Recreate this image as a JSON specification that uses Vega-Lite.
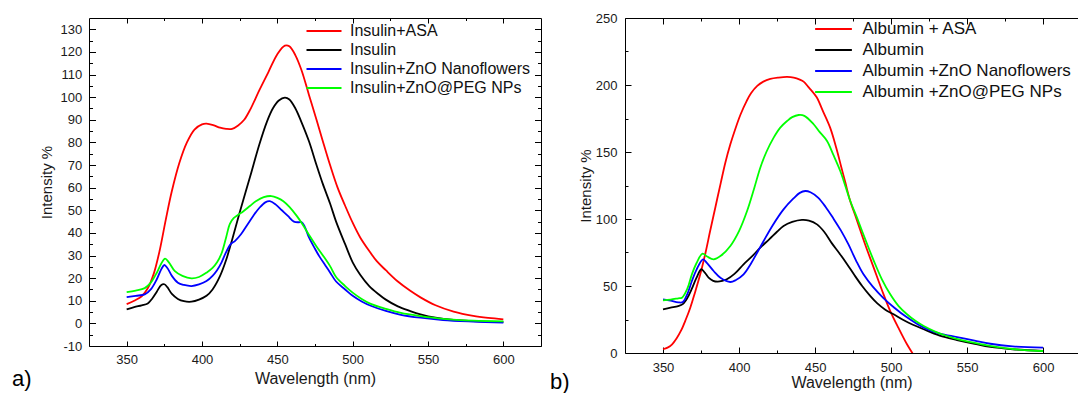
{
  "$schema": "https://vega.github.io/schema/vega-lite/v6.json",
  "padding": {"left": 12, "top": 12, "right": 0, "bottom": 0},
  "spacing": 8,
  "config": {
    "view": {"stroke": null},
    "font": "Liberation Sans",
    "axis": {"grid": false, "domainColor": "#000", "domainWidth": 1, "tickColor": "#000", "tickWidth": 1, "labelFontSize": 13, "labelColor": "#1a1a1a", "labelFont": "Liberation Sans", "titleFont": "Liberation Sans", "titleFontWeight": "normal", "titleColor": "#1a1a1a"},
    "title": {"font": "Liberation Sans", "fontWeight": "normal", "color": "#000"}
  },
  "datasets": {
    "ins": [
      {"s":"Insulin+ASA","wl":350,"v":8.5},{"s":"Insulin+ASA","wl":355,"v":10},{"s":"Insulin+ASA","wl":360,"v":12},{"s":"Insulin+ASA","wl":364,"v":15.5},{"s":"Insulin+ASA","wl":368,"v":22},{"s":"Insulin+ASA","wl":372,"v":32.5},{"s":"Insulin+ASA","wl":376,"v":46},{"s":"Insulin+ASA","wl":380,"v":58.5},{"s":"Insulin+ASA","wl":385,"v":71},{"s":"Insulin+ASA","wl":390,"v":80},{"s":"Insulin+ASA","wl":395,"v":85.7},{"s":"Insulin+ASA","wl":400,"v":88},{"s":"Insulin+ASA","wl":403,"v":88.3},{"s":"Insulin+ASA","wl":408,"v":87.5},{"s":"Insulin+ASA","wl":412,"v":86.5},{"s":"Insulin+ASA","wl":416,"v":86},{"s":"Insulin+ASA","wl":420,"v":86},{"s":"Insulin+ASA","wl":424,"v":87.5},{"s":"Insulin+ASA","wl":428,"v":90},{"s":"Insulin+ASA","wl":432,"v":94.5},{"s":"Insulin+ASA","wl":438,"v":103},{"s":"Insulin+ASA","wl":444,"v":111},{"s":"Insulin+ASA","wl":450,"v":119},{"s":"Insulin+ASA","wl":455,"v":122.8},{"s":"Insulin+ASA","wl":458,"v":122.5},{"s":"Insulin+ASA","wl":462,"v":118.5},{"s":"Insulin+ASA","wl":466,"v":112},{"s":"Insulin+ASA","wl":471,"v":101},{"s":"Insulin+ASA","wl":476,"v":90},{"s":"Insulin+ASA","wl":480,"v":81},{"s":"Insulin+ASA","wl":485,"v":70},{"s":"Insulin+ASA","wl":490,"v":60},{"s":"Insulin+ASA","wl":495,"v":52},{"s":"Insulin+ASA","wl":500,"v":44.5},{"s":"Insulin+ASA","wl":505,"v":38},{"s":"Insulin+ASA","wl":511,"v":32},{"s":"Insulin+ASA","wl":516,"v":27.5},{"s":"Insulin+ASA","wl":522,"v":23.5},{"s":"Insulin+ASA","wl":530,"v":18.5},{"s":"Insulin+ASA","wl":538,"v":14.5},{"s":"Insulin+ASA","wl":545,"v":11.5},{"s":"Insulin+ASA","wl":555,"v":8},{"s":"Insulin+ASA","wl":567,"v":5.2},{"s":"Insulin+ASA","wl":580,"v":3.3},{"s":"Insulin+ASA","wl":590,"v":2.4},{"s":"Insulin+ASA","wl":600,"v":1.8},
      {"s":"Insulin","wl":350,"v":6.2},{"s":"Insulin","wl":355,"v":7.2},{"s":"Insulin","wl":360,"v":8},{"s":"Insulin","wl":364,"v":8.8},{"s":"Insulin","wl":367,"v":11},{"s":"Insulin","wl":370,"v":14},{"s":"Insulin","wl":373,"v":17},{"s":"Insulin","wl":375,"v":17.3},{"s":"Insulin","wl":377,"v":16},{"s":"Insulin","wl":380,"v":13},{"s":"Insulin","wl":384,"v":10.8},{"s":"Insulin","wl":388,"v":9.8},{"s":"Insulin","wl":393,"v":9.6},{"s":"Insulin","wl":398,"v":10.5},{"s":"Insulin","wl":403,"v":12.2},{"s":"Insulin","wl":407,"v":15},{"s":"Insulin","wl":412,"v":21},{"s":"Insulin","wl":416,"v":28},{"s":"Insulin","wl":420,"v":37},{"s":"Insulin","wl":425,"v":49},{"s":"Insulin","wl":432,"v":65},{"s":"Insulin","wl":438,"v":79},{"s":"Insulin","wl":443,"v":89},{"s":"Insulin","wl":447,"v":95},{"s":"Insulin","wl":451,"v":98.5},{"s":"Insulin","wl":455,"v":99.8},{"s":"Insulin","wl":458,"v":99},{"s":"Insulin","wl":462,"v":95},{"s":"Insulin","wl":466,"v":89},{"s":"Insulin","wl":471,"v":80.5},{"s":"Insulin","wl":476,"v":70},{"s":"Insulin","wl":480,"v":62},{"s":"Insulin","wl":485,"v":53},{"s":"Insulin","wl":489,"v":45},{"s":"Insulin","wl":495,"v":35},{"s":"Insulin","wl":500,"v":27},{"s":"Insulin","wl":505,"v":21.5},{"s":"Insulin","wl":511,"v":16.5},{"s":"Insulin","wl":517,"v":13},{"s":"Insulin","wl":522,"v":10.5},{"s":"Insulin","wl":530,"v":7.5},{"s":"Insulin","wl":538,"v":5.5},{"s":"Insulin","wl":545,"v":4},{"s":"Insulin","wl":555,"v":2.5},{"s":"Insulin","wl":567,"v":1.5},{"s":"Insulin","wl":580,"v":1},{"s":"Insulin","wl":600,"v":0.6},
      {"s":"Insulin+ZnO Nanoflowers","wl":350,"v":11.6},{"s":"Insulin+ZnO Nanoflowers","wl":356,"v":12.2},{"s":"Insulin+ZnO Nanoflowers","wl":362,"v":12.8},{"s":"Insulin+ZnO Nanoflowers","wl":366,"v":15},{"s":"Insulin+ZnO Nanoflowers","wl":370,"v":19.5},{"s":"Insulin+ZnO Nanoflowers","wl":373,"v":24},{"s":"Insulin+ZnO Nanoflowers","wl":375,"v":25.8},{"s":"Insulin+ZnO Nanoflowers","wl":377,"v":24.5},{"s":"Insulin+ZnO Nanoflowers","wl":380,"v":21},{"s":"Insulin+ZnO Nanoflowers","wl":384,"v":18},{"s":"Insulin+ZnO Nanoflowers","wl":388,"v":17},{"s":"Insulin+ZnO Nanoflowers","wl":393,"v":16.5},{"s":"Insulin+ZnO Nanoflowers","wl":398,"v":17.2},{"s":"Insulin+ZnO Nanoflowers","wl":403,"v":18.7},{"s":"Insulin+ZnO Nanoflowers","wl":407,"v":21},{"s":"Insulin+ZnO Nanoflowers","wl":410,"v":23.5},{"s":"Insulin+ZnO Nanoflowers","wl":413,"v":27},{"s":"Insulin+ZnO Nanoflowers","wl":416,"v":31.5},{"s":"Insulin+ZnO Nanoflowers","wl":419,"v":35},{"s":"Insulin+ZnO Nanoflowers","wl":422,"v":36.5},{"s":"Insulin+ZnO Nanoflowers","wl":426,"v":39.5},{"s":"Insulin+ZnO Nanoflowers","wl":430,"v":43.5},{"s":"Insulin+ZnO Nanoflowers","wl":434,"v":47.5},{"s":"Insulin+ZnO Nanoflowers","wl":438,"v":51},{"s":"Insulin+ZnO Nanoflowers","wl":442,"v":53.5},{"s":"Insulin+ZnO Nanoflowers","wl":445,"v":54},{"s":"Insulin+ZnO Nanoflowers","wl":449,"v":52.5},{"s":"Insulin+ZnO Nanoflowers","wl":453,"v":50},{"s":"Insulin+ZnO Nanoflowers","wl":457,"v":47.5},{"s":"Insulin+ZnO Nanoflowers","wl":461,"v":45},{"s":"Insulin+ZnO Nanoflowers","wl":464,"v":44.7},{"s":"Insulin+ZnO Nanoflowers","wl":466,"v":44.8},{"s":"Insulin+ZnO Nanoflowers","wl":468,"v":43},{"s":"Insulin+ZnO Nanoflowers","wl":471,"v":38},{"s":"Insulin+ZnO Nanoflowers","wl":475,"v":33},{"s":"Insulin+ZnO Nanoflowers","wl":478,"v":29.5},{"s":"Insulin+ZnO Nanoflowers","wl":482,"v":25.5},{"s":"Insulin+ZnO Nanoflowers","wl":485,"v":22.5},{"s":"Insulin+ZnO Nanoflowers","wl":489,"v":18.5},{"s":"Insulin+ZnO Nanoflowers","wl":495,"v":15},{"s":"Insulin+ZnO Nanoflowers","wl":500,"v":12.2},{"s":"Insulin+ZnO Nanoflowers","wl":506,"v":9.7},{"s":"Insulin+ZnO Nanoflowers","wl":512,"v":7.8},{"s":"Insulin+ZnO Nanoflowers","wl":522,"v":5.5},{"s":"Insulin+ZnO Nanoflowers","wl":532,"v":3.8},{"s":"Insulin+ZnO Nanoflowers","wl":545,"v":2.5},{"s":"Insulin+ZnO Nanoflowers","wl":560,"v":1.5},{"s":"Insulin+ZnO Nanoflowers","wl":580,"v":0.8},{"s":"Insulin+ZnO Nanoflowers","wl":600,"v":0.3},
      {"s":"Insulin+ZnO@PEG  NPs","wl":350,"v":13.8},{"s":"Insulin+ZnO@PEG  NPs","wl":356,"v":14.5},{"s":"Insulin+ZnO@PEG  NPs","wl":362,"v":15.6},{"s":"Insulin+ZnO@PEG  NPs","wl":366,"v":18},{"s":"Insulin+ZnO@PEG  NPs","wl":370,"v":22.4},{"s":"Insulin+ZnO@PEG  NPs","wl":373,"v":26.5},{"s":"Insulin+ZnO@PEG  NPs","wl":375.5,"v":28.6},{"s":"Insulin+ZnO@PEG  NPs","wl":378,"v":27},{"s":"Insulin+ZnO@PEG  NPs","wl":382,"v":23.1},{"s":"Insulin+ZnO@PEG  NPs","wl":387,"v":21},{"s":"Insulin+ZnO@PEG  NPs","wl":393,"v":19.9},{"s":"Insulin+ZnO@PEG  NPs","wl":398,"v":20.5},{"s":"Insulin+ZnO@PEG  NPs","wl":403,"v":22.4},{"s":"Insulin+ZnO@PEG  NPs","wl":407,"v":24.5},{"s":"Insulin+ZnO@PEG  NPs","wl":410,"v":27},{"s":"Insulin+ZnO@PEG  NPs","wl":413,"v":31},{"s":"Insulin+ZnO@PEG  NPs","wl":416,"v":38},{"s":"Insulin+ZnO@PEG  NPs","wl":418.5,"v":44},{"s":"Insulin+ZnO@PEG  NPs","wl":421,"v":46.5},{"s":"Insulin+ZnO@PEG  NPs","wl":424,"v":48},{"s":"Insulin+ZnO@PEG  NPs","wl":427.5,"v":49.6},{"s":"Insulin+ZnO@PEG  NPs","wl":432,"v":52},{"s":"Insulin+ZnO@PEG  NPs","wl":436,"v":54.1},{"s":"Insulin+ZnO@PEG  NPs","wl":441,"v":55.8},{"s":"Insulin+ZnO@PEG  NPs","wl":446,"v":56.3},{"s":"Insulin+ZnO@PEG  NPs","wl":450,"v":55.5},{"s":"Insulin+ZnO@PEG  NPs","wl":454,"v":54},{"s":"Insulin+ZnO@PEG  NPs","wl":458,"v":51.5},{"s":"Insulin+ZnO@PEG  NPs","wl":463,"v":47.4},{"s":"Insulin+ZnO@PEG  NPs","wl":467,"v":43.5},{"s":"Insulin+ZnO@PEG  NPs","wl":471.5,"v":38.6},{"s":"Insulin+ZnO@PEG  NPs","wl":476,"v":34},{"s":"Insulin+ZnO@PEG  NPs","wl":480.5,"v":29.8},{"s":"Insulin+ZnO@PEG  NPs","wl":485,"v":25.3},{"s":"Insulin+ZnO@PEG  NPs","wl":489,"v":20.5},{"s":"Insulin+ZnO@PEG  NPs","wl":495,"v":16.5},{"s":"Insulin+ZnO@PEG  NPs","wl":500,"v":13.6},{"s":"Insulin+ZnO@PEG  NPs","wl":506,"v":10.8},{"s":"Insulin+ZnO@PEG  NPs","wl":512,"v":8.6},{"s":"Insulin+ZnO@PEG  NPs","wl":522,"v":6.4},{"s":"Insulin+ZnO@PEG  NPs","wl":532,"v":4.6},{"s":"Insulin+ZnO@PEG  NPs","wl":545,"v":3.2},{"s":"Insulin+ZnO@PEG  NPs","wl":560,"v":2},{"s":"Insulin+ZnO@PEG  NPs","wl":580,"v":1.2},{"s":"Insulin+ZnO@PEG  NPs","wl":600,"v":0.9}
    ],
    "alb": [
      {"s":"Albumin + ASA","wl":350,"v":2.8},{"s":"Albumin + ASA","wl":353,"v":4},{"s":"Albumin + ASA","wl":356,"v":6.5},{"s":"Albumin + ASA","wl":359,"v":11},{"s":"Albumin + ASA","wl":362,"v":17},{"s":"Albumin + ASA","wl":365,"v":25},{"s":"Albumin + ASA","wl":368,"v":34},{"s":"Albumin + ASA","wl":371,"v":45},{"s":"Albumin + ASA","wl":374.5,"v":58.7},{"s":"Albumin + ASA","wl":378,"v":75},{"s":"Albumin + ASA","wl":381,"v":91},{"s":"Albumin + ASA","wl":384.5,"v":109},{"s":"Albumin + ASA","wl":388,"v":127},{"s":"Albumin + ASA","wl":391,"v":142},{"s":"Albumin + ASA","wl":394.3,"v":155.7},{"s":"Albumin + ASA","wl":397.5,"v":167},{"s":"Albumin + ASA","wl":401,"v":178},{"s":"Albumin + ASA","wl":405,"v":188},{"s":"Albumin + ASA","wl":408,"v":194},{"s":"Albumin + ASA","wl":412,"v":199.3},{"s":"Albumin + ASA","wl":416,"v":202.5},{"s":"Albumin + ASA","wl":420.6,"v":204.5},{"s":"Albumin + ASA","wl":426,"v":205.5},{"s":"Albumin + ASA","wl":431.6,"v":206},{"s":"Albumin + ASA","wl":436,"v":205.5},{"s":"Albumin + ASA","wl":440,"v":204},{"s":"Albumin + ASA","wl":442.5,"v":202.5},{"s":"Albumin + ASA","wl":446,"v":198},{"s":"Albumin + ASA","wl":451,"v":191},{"s":"Albumin + ASA","wl":455,"v":181},{"s":"Albumin + ASA","wl":460,"v":168},{"s":"Albumin + ASA","wl":464,"v":153},{"s":"Albumin + ASA","wl":467,"v":140},{"s":"Albumin + ASA","wl":470,"v":127},{"s":"Albumin + ASA","wl":473,"v":114},{"s":"Albumin + ASA","wl":477.6,"v":99},{"s":"Albumin + ASA","wl":483,"v":81},{"s":"Albumin + ASA","wl":488.6,"v":63.7},{"s":"Albumin + ASA","wl":494,"v":47},{"s":"Albumin + ASA","wl":499.5,"v":31.3},{"s":"Albumin + ASA","wl":505,"v":18.5},{"s":"Albumin + ASA","wl":510.5,"v":6.5},{"s":"Albumin + ASA","wl":514,"v":0},{"s":"Albumin + ASA","wl":517,"v":-6},
      {"s":"Albumin","wl":350,"v":32.6},{"s":"Albumin","wl":355,"v":33.8},{"s":"Albumin","wl":360,"v":35},{"s":"Albumin","wl":363,"v":36.5},{"s":"Albumin","wl":366,"v":41},{"s":"Albumin","wl":369,"v":48},{"s":"Albumin","wl":372,"v":56},{"s":"Albumin","wl":375.2,"v":62.5},{"s":"Albumin","wl":377.5,"v":60},{"s":"Albumin","wl":380,"v":56.2},{"s":"Albumin","wl":383,"v":53.8},{"s":"Albumin","wl":386,"v":53.2},{"s":"Albumin","wl":389,"v":53.8},{"s":"Albumin","wl":392,"v":55},{"s":"Albumin","wl":397,"v":59},{"s":"Albumin","wl":403,"v":66.2},{"s":"Albumin","wl":408,"v":71.5},{"s":"Albumin","wl":414,"v":78.6},{"s":"Albumin","wl":420,"v":85},{"s":"Albumin","wl":425,"v":90.5},{"s":"Albumin","wl":429.3,"v":94.8},{"s":"Albumin","wl":435,"v":97.8},{"s":"Albumin","wl":441.4,"v":99.3},{"s":"Albumin","wl":446,"v":98.8},{"s":"Albumin","wl":451.3,"v":96},{"s":"Albumin","wl":456,"v":90.5},{"s":"Albumin","wl":461,"v":82},{"s":"Albumin","wl":466,"v":74.5},{"s":"Albumin","wl":471,"v":66.5},{"s":"Albumin","wl":476,"v":58},{"s":"Albumin","wl":481,"v":50},{"s":"Albumin","wl":486,"v":43},{"s":"Albumin","wl":491,"v":37},{"s":"Albumin","wl":496,"v":32.5},{"s":"Albumin","wl":502,"v":28.7},{"s":"Albumin","wl":510,"v":23.5},{"s":"Albumin","wl":521.5,"v":17.7},{"s":"Albumin","wl":532,"v":13},{"s":"Albumin","wl":543.4,"v":9.7},{"s":"Albumin","wl":555,"v":6.8},{"s":"Albumin","wl":565.3,"v":4.5},{"s":"Albumin","wl":580,"v":2.8},{"s":"Albumin","wl":600,"v":1.5},
      {"s":"Albumin +ZnO Nanoflowers","wl":350,"v":40},{"s":"Albumin +ZnO Nanoflowers","wl":355,"v":39},{"s":"Albumin +ZnO Nanoflowers","wl":360,"v":37.8},{"s":"Albumin +ZnO Nanoflowers","wl":363,"v":38},{"s":"Albumin +ZnO Nanoflowers","wl":366,"v":44},{"s":"Albumin +ZnO Nanoflowers","wl":369,"v":53.7},{"s":"Albumin +ZnO Nanoflowers","wl":372,"v":62},{"s":"Albumin +ZnO Nanoflowers","wl":376.3,"v":69.9},{"s":"Albumin +ZnO Nanoflowers","wl":379,"v":67},{"s":"Albumin +ZnO Nanoflowers","wl":383.3,"v":61.2},{"s":"Albumin +ZnO Nanoflowers","wl":388,"v":56},{"s":"Albumin +ZnO Nanoflowers","wl":394.3,"v":53},{"s":"Albumin +ZnO Nanoflowers","wl":398,"v":54.5},{"s":"Albumin +ZnO Nanoflowers","wl":403,"v":58.7},{"s":"Albumin +ZnO Nanoflowers","wl":408,"v":67},{"s":"Albumin +ZnO Nanoflowers","wl":412,"v":75},{"s":"Albumin +ZnO Nanoflowers","wl":416.2,"v":83.6},{"s":"Albumin +ZnO Nanoflowers","wl":422,"v":95},{"s":"Albumin +ZnO Nanoflowers","wl":429.3,"v":107.2},{"s":"Albumin +ZnO Nanoflowers","wl":436,"v":115.5},{"s":"Albumin +ZnO Nanoflowers","wl":440,"v":119.5},{"s":"Albumin +ZnO Nanoflowers","wl":443.6,"v":120.9},{"s":"Albumin +ZnO Nanoflowers","wl":447,"v":120},{"s":"Albumin +ZnO Nanoflowers","wl":452,"v":116},{"s":"Albumin +ZnO Nanoflowers","wl":457,"v":109},{"s":"Albumin +ZnO Nanoflowers","wl":462,"v":100.5},{"s":"Albumin +ZnO Nanoflowers","wl":467,"v":91.5},{"s":"Albumin +ZnO Nanoflowers","wl":472,"v":81},{"s":"Albumin +ZnO Nanoflowers","wl":477,"v":69},{"s":"Albumin +ZnO Nanoflowers","wl":482,"v":58.5},{"s":"Albumin +ZnO Nanoflowers","wl":488,"v":49.5},{"s":"Albumin +ZnO Nanoflowers","wl":495,"v":41},{"s":"Albumin +ZnO Nanoflowers","wl":502,"v":34},{"s":"Albumin +ZnO Nanoflowers","wl":510,"v":27},{"s":"Albumin +ZnO Nanoflowers","wl":521.5,"v":18.9},{"s":"Albumin +ZnO Nanoflowers","wl":532,"v":14.5},{"s":"Albumin +ZnO Nanoflowers","wl":543.4,"v":11.9},{"s":"Albumin +ZnO Nanoflowers","wl":555,"v":9.2},{"s":"Albumin +ZnO Nanoflowers","wl":565.3,"v":6.9},{"s":"Albumin +ZnO Nanoflowers","wl":580,"v":5},{"s":"Albumin +ZnO Nanoflowers","wl":600,"v":4},
      {"s":"Albumin +ZnO@PEG NPs","wl":350,"v":39.3},{"s":"Albumin +ZnO@PEG NPs","wl":355,"v":39.8},{"s":"Albumin +ZnO@PEG NPs","wl":360,"v":40.8},{"s":"Albumin +ZnO@PEG NPs","wl":362.5,"v":41.3},{"s":"Albumin +ZnO@PEG NPs","wl":366,"v":48},{"s":"Albumin +ZnO@PEG NPs","wl":369,"v":58.7},{"s":"Albumin +ZnO@PEG NPs","wl":372,"v":67},{"s":"Albumin +ZnO@PEG NPs","wl":376,"v":74.1},{"s":"Albumin +ZnO@PEG NPs","wl":379,"v":72},{"s":"Albumin +ZnO@PEG NPs","wl":383.3,"v":69.9},{"s":"Albumin +ZnO@PEG NPs","wl":388,"v":72.5},{"s":"Albumin +ZnO@PEG NPs","wl":394.3,"v":79.9},{"s":"Albumin +ZnO@PEG NPs","wl":400,"v":91},{"s":"Albumin +ZnO@PEG NPs","wl":405.3,"v":106},{"s":"Albumin +ZnO@PEG NPs","wl":410,"v":123},{"s":"Albumin +ZnO@PEG NPs","wl":414,"v":138.3},{"s":"Albumin +ZnO@PEG NPs","wl":418,"v":150},{"s":"Albumin +ZnO@PEG NPs","wl":422.8,"v":160.7},{"s":"Albumin +ZnO@PEG NPs","wl":427,"v":168},{"s":"Albumin +ZnO@PEG NPs","wl":431.6,"v":173.1},{"s":"Albumin +ZnO@PEG NPs","wl":435,"v":176},{"s":"Albumin +ZnO@PEG NPs","wl":439.2,"v":177.6},{"s":"Albumin +ZnO@PEG NPs","wl":443,"v":177},{"s":"Albumin +ZnO@PEG NPs","wl":449.1,"v":170.7},{"s":"Albumin +ZnO@PEG NPs","wl":453,"v":165},{"s":"Albumin +ZnO@PEG NPs","wl":457.9,"v":158.2},{"s":"Albumin +ZnO@PEG NPs","wl":462,"v":148},{"s":"Albumin +ZnO@PEG NPs","wl":466.6,"v":135.8},{"s":"Albumin +ZnO@PEG NPs","wl":470,"v":124.5},{"s":"Albumin +ZnO@PEG NPs","wl":473.2,"v":113.4},{"s":"Albumin +ZnO@PEG NPs","wl":477.6,"v":101},{"s":"Albumin +ZnO@PEG NPs","wl":483,"v":85},{"s":"Albumin +ZnO@PEG NPs","wl":488.6,"v":69},{"s":"Albumin +ZnO@PEG NPs","wl":494,"v":55},{"s":"Albumin +ZnO@PEG NPs","wl":499.5,"v":43.8},{"s":"Albumin +ZnO@PEG NPs","wl":505,"v":35},{"s":"Albumin +ZnO@PEG NPs","wl":510.5,"v":28.9},{"s":"Albumin +ZnO@PEG NPs","wl":516,"v":24},{"s":"Albumin +ZnO@PEG NPs","wl":521.5,"v":20.1},{"s":"Albumin +ZnO@PEG NPs","wl":529,"v":16},{"s":"Albumin +ZnO@PEG NPs","wl":536.8,"v":12.7},{"s":"Albumin +ZnO@PEG NPs","wl":545,"v":10},{"s":"Albumin +ZnO@PEG NPs","wl":554.3,"v":7.7},{"s":"Albumin +ZnO@PEG NPs","wl":565,"v":5.3},{"s":"Albumin +ZnO@PEG NPs","wl":576.3,"v":3.5},{"s":"Albumin +ZnO@PEG NPs","wl":588,"v":2.2},{"s":"Albumin +ZnO@PEG NPs","wl":600,"v":1.5}
    ]
  },
  "hconcat": [
    {
      "width": 452,
      "height": 328,
      "data": {"name": "ins"},
      "title": {"text": "a)", "orient": "bottom", "anchor": "start", "frame": "group", "dx": -77, "dy": -21, "fontSize": 22},
      "layer": [
        {
          "mark": {"type": "line", "strokeWidth": 1.8, "interpolate": "catmull-rom", "clip": true},
          "encoding": {
            "x": {"field": "wl", "type": "quantitative", "scale": {"domain": [325, 625], "nice": false, "zero": false},
                  "axis": {"orient": "bottom", "values": [350, 400, 450, 500, 550, 600], "tickSize": -5, "labelPadding": 12, "title": "Wavelength (nm)", "titleFontSize": 16, "titlePadding": 4}},
            "y": {"field": "v", "type": "quantitative", "scale": {"domain": [-10, 135], "nice": false, "zero": false},
                  "axis": {"orient": "left", "values": [-10, 0, 10, 20, 30, 40, 50, 60, 70, 80, 90, 100, 110, 120, 130], "tickSize": -6.5, "labelPadding": 13.8, "labelExpr": "'' + datum.value", "title": "Intensity %", "titleFontSize": 15, "titlePadding": 6}},
            "color": {"field": "s", "type": "nominal",
                      "scale": {"domain": ["Insulin+ASA", "Insulin", "Insulin+ZnO Nanoflowers", "Insulin+ZnO@PEG  NPs"], "range": ["#ff0000", "#000000", "#0000ff", "#00ff00"]},
                      "legend": {"orient": "none", "legendX": 227, "legendY": 5, "title": null, "padding": 0, "symbolType": "M-5,0H5", "symbolSize": 49, "symbolStrokeWidth": 1.8, "labelFontSize": 16, "labelOffset": 18, "rowPadding": 3, "labelColor": "#111", "labelFont": "Liberation Sans", "labelLimit": 0}}
          }
        },
        {
          "mark": {"type": "point", "opacity": 0},
          "encoding": {
            "x": {"field": "wl", "type": "quantitative", "axis": {"orient": "bottom", "values": [375, 425, 475, 525, 575], "tickSize": -2.5, "labels": false, "domain": false, "title": null}},
            "y": {"field": "v", "type": "quantitative", "axis": {"orient": "left", "values": [-5, 5, 15, 25, 35, 45, 55, 65, 75, 85, 95, 105, 115, 125], "tickSize": -3.5, "labels": false, "domain": false, "title": null}}
          }
        },
        {
          "mark": {"type": "point", "opacity": 0},
          "encoding": {
            "x": {"field": "wl", "type": "quantitative", "axis": {"orient": "top", "values": [350, 400, 450, 500, 550, 600], "tickSize": -5, "labels": false, "title": null}},
            "y": {"field": "v", "type": "quantitative", "axis": {"orient": "right", "values": [-10, 0, 10, 20, 30, 40, 50, 60, 70, 80, 90, 100, 110, 120, 130], "tickSize": -6.5, "labels": false, "title": null}}
          }
        },
        {
          "mark": {"type": "point", "opacity": 0},
          "encoding": {
            "x": {"field": "wl", "type": "quantitative", "axis": {"orient": "top", "values": [375, 425, 475, 525, 575], "tickSize": -2.5, "labels": false, "domain": false, "title": null}},
            "y": {"field": "v", "type": "quantitative", "axis": {"orient": "right", "values": [-5, 5, 15, 25, 35, 45, 55, 65, 75, 85, 95, 105, 115, 125], "tickSize": -3.5, "labels": false, "domain": false, "title": null}}
          }
        }
      ],
      "resolve": {"axis": {"x": "independent", "y": "independent"}}
    },
    {
      "width": 453,
      "height": 335,
      "data": {"name": "alb"},
      "title": {"text": "b)", "orient": "bottom", "anchor": "start", "frame": "group", "dx": -75, "dy": -22, "fontSize": 22},
      "layer": [
        {
          "mark": {"type": "line", "strokeWidth": 1.8, "interpolate": "catmull-rom", "clip": true},
          "encoding": {
            "x": {"field": "wl", "type": "quantitative", "scale": {"domain": [325, 623], "nice": false, "zero": false},
                  "axis": {"orient": "bottom", "values": [350, 400, 450, 500, 550, 600], "tickSize": -6, "labelPadding": 14, "title": "Wavelength (nm)", "titleFontSize": 16, "titlePadding": 0}},
            "y": {"field": "v", "type": "quantitative", "scale": {"domain": [0, 250], "nice": false, "zero": false},
                  "axis": {"orient": "left", "values": [0, 50, 100, 150, 200, 250], "tickSize": -6, "labelPadding": 14, "title": "Intensity %", "titleFontSize": 15, "titlePadding": 2}},
            "color": {"field": "s", "type": "nominal",
                      "scale": {"domain": ["Albumin + ASA", "Albumin", "Albumin +ZnO Nanoflowers", "Albumin +ZnO@PEG NPs"], "range": ["#ff0000", "#000000", "#0000ff", "#00ff00"]},
                      "legend": {"orient": "none", "legendX": 200, "legendY": 2.5, "title": null, "padding": 0, "symbolType": "M-5.25,0H5.25", "symbolSize": 49, "symbolStrokeWidth": 1.8, "labelFontSize": 17, "labelOffset": 20.5, "rowPadding": 3, "labelColor": "#111", "labelFont": "Liberation Sans", "labelLimit": 0}}
          }
        },
        {
          "mark": {"type": "point", "opacity": 0},
          "encoding": {
            "x": {"field": "wl", "type": "quantitative", "axis": {"orient": "bottom", "values": [375, 425, 475, 525, 575], "tickSize": -3, "labels": false, "domain": false, "title": null}},
            "y": {"field": "v", "type": "quantitative", "axis": {"orient": "left", "values": [25, 75, 125, 175, 225], "tickSize": -3, "labels": false, "domain": false, "title": null}}
          }
        },
        {
          "mark": {"type": "point", "opacity": 0},
          "encoding": {
            "x": {"field": "wl", "type": "quantitative", "axis": {"orient": "top", "values": [350, 400, 450, 500, 550, 600], "tickSize": -6, "labels": false, "title": null}},
            "y": {"field": "v", "type": "quantitative", "axis": null}
          }
        },
        {
          "mark": {"type": "point", "opacity": 0},
          "encoding": {
            "x": {"field": "wl", "type": "quantitative", "axis": {"orient": "top", "values": [375, 425, 475, 525, 575], "tickSize": -3, "labels": false, "domain": false, "title": null}},
            "y": {"field": "v", "type": "quantitative", "axis": null}
          }
        }
      ],
      "resolve": {"axis": {"x": "independent", "y": "independent"}}
    }
  ],
  "resolve": {"scale": {"color": "independent"}, "legend": {"color": "independent"}}
}
